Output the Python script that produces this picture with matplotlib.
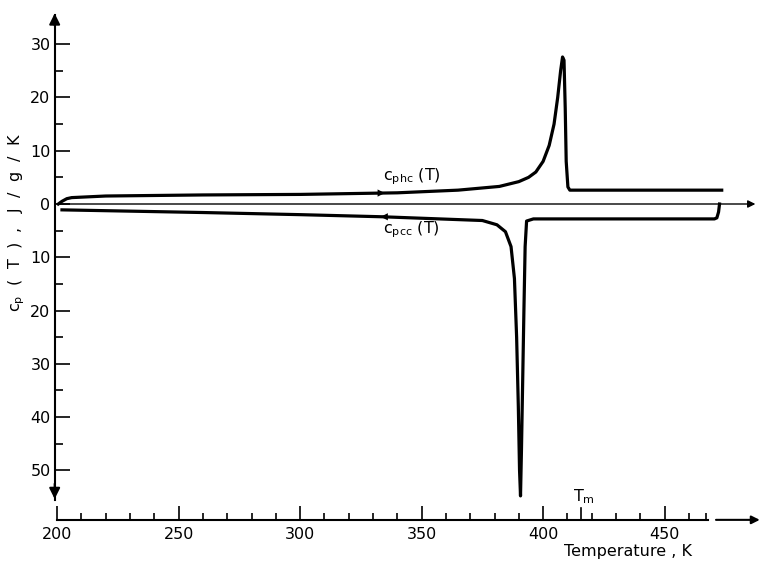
import numpy as np
import matplotlib
matplotlib.use("Agg")
import matplotlib.pyplot as plt
from matplotlib.ticker import FixedLocator, FuncFormatter

plt.rcParams['font.family'] = ['DejaVu Sans']

# ---- data ----
T_hc = [200.5, 202, 204, 206, 220, 260, 300, 340, 365, 382, 390, 394, 397,
        400, 402.5, 404.5, 406, 407.2, 408.0, 408.6, 409.1, 409.5, 410.2, 411, 473.5]
cp_hc = [0.0, 0.5, 1.0, 1.2, 1.5, 1.7, 1.8, 2.1, 2.6, 3.3, 4.2, 5.0, 6.0,
         8.0, 11.0, 15.0, 20.0, 25.0, 27.6, 27.0, 18.0, 8.0, 3.2, 2.6, 2.6]

T_cc = [472.6, 472.2, 471.5, 470.5, 430, 396, 393.2, 392.6, 392.1, 391.6,
        391.1, 390.7, 390.3, 389.8, 389.1, 388.2, 386.8, 384.5, 381, 375,
        334, 300, 260, 202]
cp_cc = [0.0, -1.5, -2.6, -2.8, -2.8, -2.8, -3.2, -8.0, -20.0, -33.0,
         -46.0, -54.8, -50.0, -38.0, -25.0, -14.0, -8.0, -5.2, -3.9, -3.1,
         -2.4, -2.0, -1.6, -1.1]

hc_label = r'$\mathregular{c_{phc}}$ (T)'
cc_label = r'$\mathregular{c_{pcc}}$ (T)'
T_m = 415.5
arrow_T = 334.0

x_major = [200, 250, 300, 350, 400, 450]
x_minor = [210, 220, 230, 240, 260, 270, 280, 290, 310, 320, 330, 340,
           360, 370, 380, 390, 410, 420, 430, 440, 460, 467]
y_major = [30, 20, 10, 0, -10, -20, -30, -40, -50]
y_minor = [25, 15, 5, -5, -15, -25, -35, -45]

# ---- figure ----
fig = plt.figure(figsize=(7.64, 5.63), dpi=100)
ax = fig.add_axes([0, 0, 1, 1])
ax.set_xlim(176.5, 490.9)
ax.set_ylim(-67.4, 38.3)

y_axis_T = 199.0
x_axis_v = -59.3

for s in ['top', 'right']:
    ax.spines[s].set_visible(False)
ax.spines['left'].set_position(('data', y_axis_T))
ax.spines['left'].set_bounds(-55.5, 35.5)
ax.spines['left'].set_linewidth(1.5)
ax.spines['bottom'].set_position(('data', x_axis_v))
ax.spines['bottom'].set_bounds(200, 468)
ax.spines['bottom'].set_linewidth(1.5)

# ticks
ax.xaxis.set_major_locator(FixedLocator(x_major))
ax.xaxis.set_minor_locator(FixedLocator(x_minor))
ax.yaxis.set_major_locator(FixedLocator(y_major))
ax.yaxis.set_minor_locator(FixedLocator(y_minor))
ax.yaxis.set_major_formatter(FuncFormatter(lambda v, p: f"{abs(int(v))}"))
ax.tick_params(axis='x', which='major', direction='in', length=10, width=1.2,
               labelsize=11.5, pad=5)
ax.tick_params(axis='x', which='minor', direction='in', length=5, width=1.2)
ax.tick_params(axis='y', which='major', direction='in', length=11, width=1.2,
               labelsize=11.5, pad=3)
ax.tick_params(axis='y', which='minor', direction='in', length=6, width=1.2)

# axis arrows
ax.annotate('', xy=(y_axis_T, 36.3), xytext=(y_axis_T, 33),
            arrowprops=dict(arrowstyle='-|>', mutation_scale=16, lw=1.5, color='k'))
ax.annotate('', xy=(y_axis_T, -55.9), xytext=(y_axis_T, -52),
            arrowprops=dict(arrowstyle='-|>', mutation_scale=16, lw=1.5, color='k'))
ax.annotate('', xy=(490.3, x_axis_v), xytext=(470, x_axis_v),
            arrowprops=dict(arrowstyle='-|>', mutation_scale=12, lw=1.5, color='k'))

# Tm tick & label
ax.plot([T_m, T_m], [x_axis_v, x_axis_v + 2.3], color='k', lw=1.2)
ax.text(T_m + 1.2, x_axis_v + 2.6, r'T$_\mathregular{m}$', fontsize=11.5,
        ha='center', va='bottom')

# zero line with arrow
ax.annotate('', xy=(488.5, 0), xytext=(y_axis_T, 0),
            arrowprops=dict(arrowstyle='-|>', mutation_scale=11, lw=1.0, color='k'))

# curves
ax.plot(T_hc, cp_hc, color='k', lw=2.3, solid_joinstyle='round')
ax.plot(T_cc, cp_cc, color='k', lw=2.3, solid_joinstyle='round')

# direction arrows on curves
v_hc = np.interp(arrow_T, T_hc, cp_hc)
v_cc = np.interp(arrow_T, T_cc[::-1], cp_cc[::-1])
ax.annotate('', xy=(arrow_T + 2, v_hc), xytext=(arrow_T - 3, v_hc),
            arrowprops=dict(arrowstyle='-|>', mutation_scale=13, lw=0, color='k'))
ax.annotate('', xy=(arrow_T - 2, v_cc), xytext=(arrow_T + 3, v_cc),
            arrowprops=dict(arrowstyle='-|>', mutation_scale=13, lw=0, color='k'))

# curve labels
ax.text(346, 5.2, hc_label, fontsize=11.5, ha='center', va='center')
ax.text(346, -4.9, cc_label, fontsize=11.5, ha='center', va='center')

# axis labels
ax.text(183.3, -3.5, r'c$_\mathregular{p}$  (  T  )  ,   J  /  g  /  K', rotation=90,
        fontsize=11.5, ha='center', va='center')
ax.text(435, -65.3, 'Temperature , K', fontsize=11.5, ha='center', va='center')

fig.savefig('out.png', dpi=100)
